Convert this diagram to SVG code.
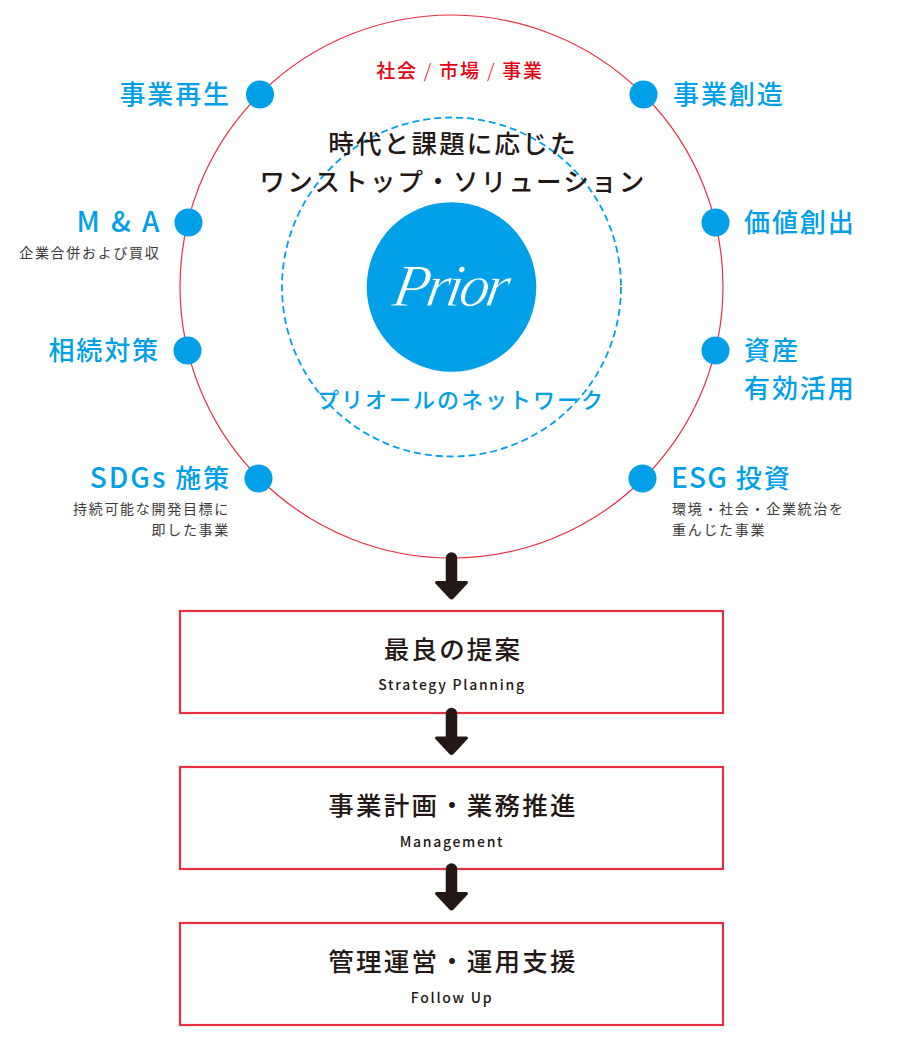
<svg xmlns="http://www.w3.org/2000/svg" width="902" height="1046" viewBox="0 0 902 1046">
<style>
text{font-family:"Noto Sans CJK JP","Noto Sans",sans-serif}
.b{font-size:26px;font-weight:500;fill:#00a0e9;letter-spacing:1.900px}
.l{font-size:28px;letter-spacing:2px}
.s{font-size:14px;fill:#3e3a39;letter-spacing:1.7px}
.h{font-size:25.500px;font-weight:500;fill:#231815;letter-spacing:2.200px;text-anchor:middle}
.e{font-size:14px;font-weight:500;fill:#231815;letter-spacing:1.700px;text-anchor:middle}
.r{text-anchor:end}
.dot{fill:#00a0e9}
.box{fill:#fff;stroke:#e83043;stroke-width:2.200}
</style>
<defs><g id="arr"><path d="M0 0V26" stroke="#231815" stroke-width="11.500" stroke-linecap="round" fill="none"/><path d="M-15 24.500H15L1 39.500Q0 40.500-1 39.500Z" fill="#231815" stroke="#231815" stroke-width="3" stroke-linejoin="round"/></g></defs>
<g id="outer-circle"><circle cx="451.500" cy="286.500" r="271.500" fill="none" stroke="#e83043" stroke-width="1.200"/></g>
<g id="inner-circle"><circle cx="451.500" cy="287" r="169.500" fill="none" stroke="#00a0e9" stroke-width="1.800" stroke-dasharray="7 4"/></g>
<g id="top-label"><text x="460" y="78" text-anchor="middle" font-size="19" font-weight="500" fill="#e60012" xml:space="preserve" letter-spacing="1.800">社会 <tspan font-weight="300">/</tspan> 市場 <tspan font-weight="300">/</tspan> 事業</text></g>
<g id="title"><text class="h" x="453" y="153">時代と課題に応じた</text><text class="h" x="453" y="191">ワンストップ・ソリューション</text></g>
<g id="prior"><circle cx="451.500" cy="287" r="84.800" fill="#00a0e9"/><text x="0" y="0" transform="translate(447 306) skewX(-10)" text-anchor="middle" font-size="60" font-style="italic" fill="#fff" stroke="#00a0e9" stroke-width="0.800" letter-spacing="-3.500" style="font-family:'Liberation Serif',serif">Prior</text></g>
<g id="network-label"><text x="461" y="408" text-anchor="middle" font-size="22" font-weight="500" fill="#00a0e9" letter-spacing="2">プリオールのネットワーク</text></g>
<g id="n1"><circle class="dot" cx="260" cy="94.500" r="14"/><text class="b r" x="231" y="104">事業再生</text></g>
<g id="n2"><circle class="dot" cx="643.500" cy="94.500" r="14"/><text class="b" x="673" y="104">事業創造</text></g>
<g id="n3"><circle class="dot" cx="188.500" cy="222.500" r="14"/><text class="b r l" x="162" y="232" xml:space="preserve" style="letter-spacing:2.500px">M &amp; A</text><text class="s r" x="160.500" y="258">企業合併および買収</text></g>
<g id="n4"><circle class="dot" cx="715.500" cy="222.500" r="14"/><text class="b" x="744" y="232">価値創出</text></g>
<g id="n5"><circle class="dot" cx="187.500" cy="350.500" r="14"/><text class="b r" x="160" y="360">相続対策</text></g>
<g id="n6"><circle class="dot" cx="715.500" cy="350.500" r="14"/><text class="b" x="744" y="360">資産</text><text class="b" x="744" y="398">有効活用</text></g>
<g id="n7"><circle class="dot" cx="258.500" cy="478.500" r="14"/><text class="b r" x="231" y="488"><tspan class="l">SDGs</tspan> 施策</text><text class="s r" x="230" y="514">持続可能な開発目標に</text><text class="s r" x="230" y="535">即した事業</text></g>
<g id="n8"><circle class="dot" cx="642.500" cy="478.500" r="14"/><text class="b" x="671" y="488"><tspan class="l" style="letter-spacing:1.200px">ESG</tspan> 投資</text><text class="s" x="672" y="514">環境・社会・企業統治を</text><text class="s" x="672" y="535">重んじた事業</text></g>
<g id="box1"><rect class="box" x="180" y="611" width="543" height="102"/><text class="h" x="453" y="659">最良の提案</text><text class="e" x="452" y="690">Strategy Planning</text></g>
<g id="box2"><rect class="box" x="180" y="767" width="543" height="102"/><text class="h" x="453" y="815">事業計画・業務推進</text><text class="e" x="452" y="847">Management</text></g>
<g id="box3"><rect class="box" x="180" y="923" width="543" height="102"/><text class="h" x="453" y="971">管理運営・運用支援</text><text class="e" x="452" y="1003">Follow Up</text></g>
<g id="connectors">
<use href="#arr" x="451.500" y="558"/>
<use href="#arr" x="451.500" y="713.500"/>
<use href="#arr" x="451.500" y="869"/>
</g>
</svg>
